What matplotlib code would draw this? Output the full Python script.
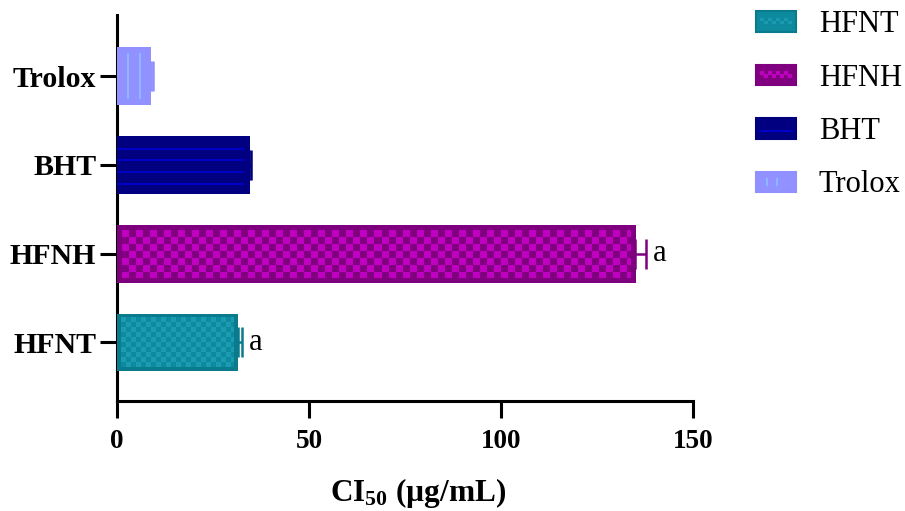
import numpy as np
import matplotlib
matplotlib.use("Agg")
import matplotlib.pyplot as plt
from matplotlib.patches import Rectangle
from matplotlib.colors import to_rgb
from matplotlib.legend_handler import HandlerBase

categories = ['HFNT', 'HFNH', 'BHT', 'Trolox']
values = [31.4, 135.0, 34.4, 8.8]
errors = [1.1, 2.7, 0.5, 0.5]
letters = ['a', 'a', '', '']
xticks = [0, 50, 100, 150]

styles = {
    'HFNT': dict(kind='checker', edge='#0a7b8d', c1='#0d8a9e', c2='#1a9bb1', cell=5, border=4),
    'HFNH': dict(kind='checker', edge='#7e007e', c1='#800080', c2='#c000c0', cell=7, border=5),
    'BHT': dict(kind='hlines', edge='#00007f', c1='#000080', c2='#0000c8', period=11.7, border=5),
    'Trolox': dict(kind='vlines', edge='#9090ff', c1='#9191ff', c2='#8cb8ff', period=12, border=6),
}

plt.rcParams['font.family'] = ['Liberation Serif', 'DejaVu Serif']
plt.rcParams['mathtext.fontset'] = 'custom'
plt.rcParams['mathtext.rm'] = 'Liberation Serif'
plt.rcParams['mathtext.bf'] = 'Liberation Serif:bold'

fig = plt.figure(figsize=(9.05, 5.11), dpi=100)
ax = fig.add_axes([117/905, 1-401/511, (693-117)/905, (401-15)/511])
ax.set_xlim(0, 150)
ax.set_ylim(-0.66, 3.69)

def make_texture(st, wpx, hpx):
    wpx = max(int(round(wpx)), 2)
    hpx = max(int(round(hpx)), 2)
    img = np.zeros((hpx, wpx, 3))
    img[:] = to_rgb(st['edge'])
    b = st['border']
    yy, xx = np.mgrid[0:hpx, 0:wpx]
    inner = (xx >= b) & (xx < wpx - b) & (yy >= b) & (yy < hpx - b)
    if st['kind'] == 'checker':
        c = st['cell']
        chk = (((xx - b) // c + (yy - b) // c) % 2) == 0
        img[inner] = to_rgb(st['c1'])
        img[inner & chk] = to_rgb(st['c2'])
    elif st['kind'] == 'hlines':
        img[:] = to_rgb(st['c1'])
        p = st['period']
        rows = [int(round(p * k)) for k in range(1, int(hpx / p) + 1)]
        for r in rows:
            if r < hpx - 3:
                img[r:r+2, 0:max(wpx - 6, 1)] = to_rgb(st['c2'])
    elif st['kind'] == 'vlines':
        img[:] = to_rgb(st['c1'])
        p = st['period']
        for k in range(1, int(wpx / p) + 1):
            cx = int(round(p * k)) - 2
            if cx < wpx - 4:
                img[b:hpx - b, cx:cx+2] = to_rgb(st['c2'])
    return img

bar_h = 0.65
ypos = np.arange(len(categories))
fig.canvas.draw()
pxx = ax.transData.transform((1, 0))[0] - ax.transData.transform((0, 0))[0]
pxy = ax.transData.transform((0, 1))[1] - ax.transData.transform((0, 0))[1]

for i, (cat, v, e, lab) in enumerate(zip(categories, values, errors, letters)):
    st = styles[cat]
    bars = ax.barh(ypos[i], v, height=bar_h, color=st['c1'], edgecolor='none', zorder=2)
    rect = bars[0]
    img = make_texture(st, v * pxx, bar_h * pxy)
    im = ax.imshow(img, extent=(0, v, ypos[i] - bar_h/2, ypos[i] + bar_h/2),
                   aspect='auto', interpolation='nearest', zorder=3, origin='upper')
    im.set_clip_path(rect)
    ax.errorbar(v, ypos[i], xerr=[[0], [e]], fmt='none', ecolor=st['edge'],
                elinewidth=1.8, capsize=10.5, capthick=1.8, zorder=1)
    if lab:
        ax.annotate(lab, xy=(v + e, ypos[i]), xytext=(5, 0), textcoords='offset points',
                    va='center', ha='left', fontsize=22, color='black')

ax.set_ylim(-0.66, 3.69)
ax.set_xlim(0, 150)
ax.set_yticks(ypos)
ax.set_yticklabels(categories, fontsize=21.5, fontweight='bold')
ax.set_xticks(xticks)
ax.set_xticklabels([str(t) for t in xticks], fontsize=19.5, fontweight='bold')
ax.tick_params(axis='both', width=2.2, length=12, color='black')
ax.tick_params(axis='x', pad=8)
ax.tick_params(axis='y', pad=3)
for s in ['top', 'right']:
    ax.spines[s].set_visible(False)
for s in ['left', 'bottom']:
    ax.spines[s].set_linewidth(2.2)
ax.set_xlabel(r'$\mathbf{CI_{50}}$ (µg/mL)', fontsize=22.5, fontweight='bold')
ax.xaxis.set_label_coords(0.5 + 13/576, -75/386)

class TexHandler(HandlerBase):
    def create_artists(self, legend, orig_handle, xdescent, ydescent, width, height, fontsize, trans):
        st = styles[orig_handle]
        arts = [Rectangle((-xdescent, -ydescent), width, height, facecolor=st['c1'],
                          edgecolor=st['edge'], lw=1.5, transform=trans)]
        x0, y0 = -xdescent, -ydescent
        if st['kind'] == 'checker':
            n = 8
            cw = (width - 6) / n
            for k in range(n):
                arts.append(Rectangle((x0 + 3 + k * cw, y0 + height * (0.35 if k % 2 else 0.5)),
                                      cw, height * 0.18, facecolor=st['c2'], edgecolor='none', transform=trans))
        elif st['kind'] == 'hlines':
            arts.append(Rectangle((x0 + 2, y0 + height * 0.3), width - 4, height * 0.1,
                                  facecolor=st['c2'], edgecolor='none', transform=trans))
        else:
            for fx in (0.25, 0.5):
                arts.append(Rectangle((x0 + width * fx, y0 + height * 0.3), 1.2, height * 0.4,
                                      facecolor=st['c2'], edgecolor='none', transform=trans))
        return arts

handles = categories
leg = fig.legend(handles, categories, handler_map={str: TexHandler()},
                 loc='upper left', bbox_to_anchor=(747/905, 1 - 1/511), frameon=False,
                 fontsize=22, handlelength=1.3, handleheight=0.65, handletextpad=0.75,
                 labelspacing=0.8, borderaxespad=0, borderpad=0.3)

fig.savefig('out.png', dpi=100)
